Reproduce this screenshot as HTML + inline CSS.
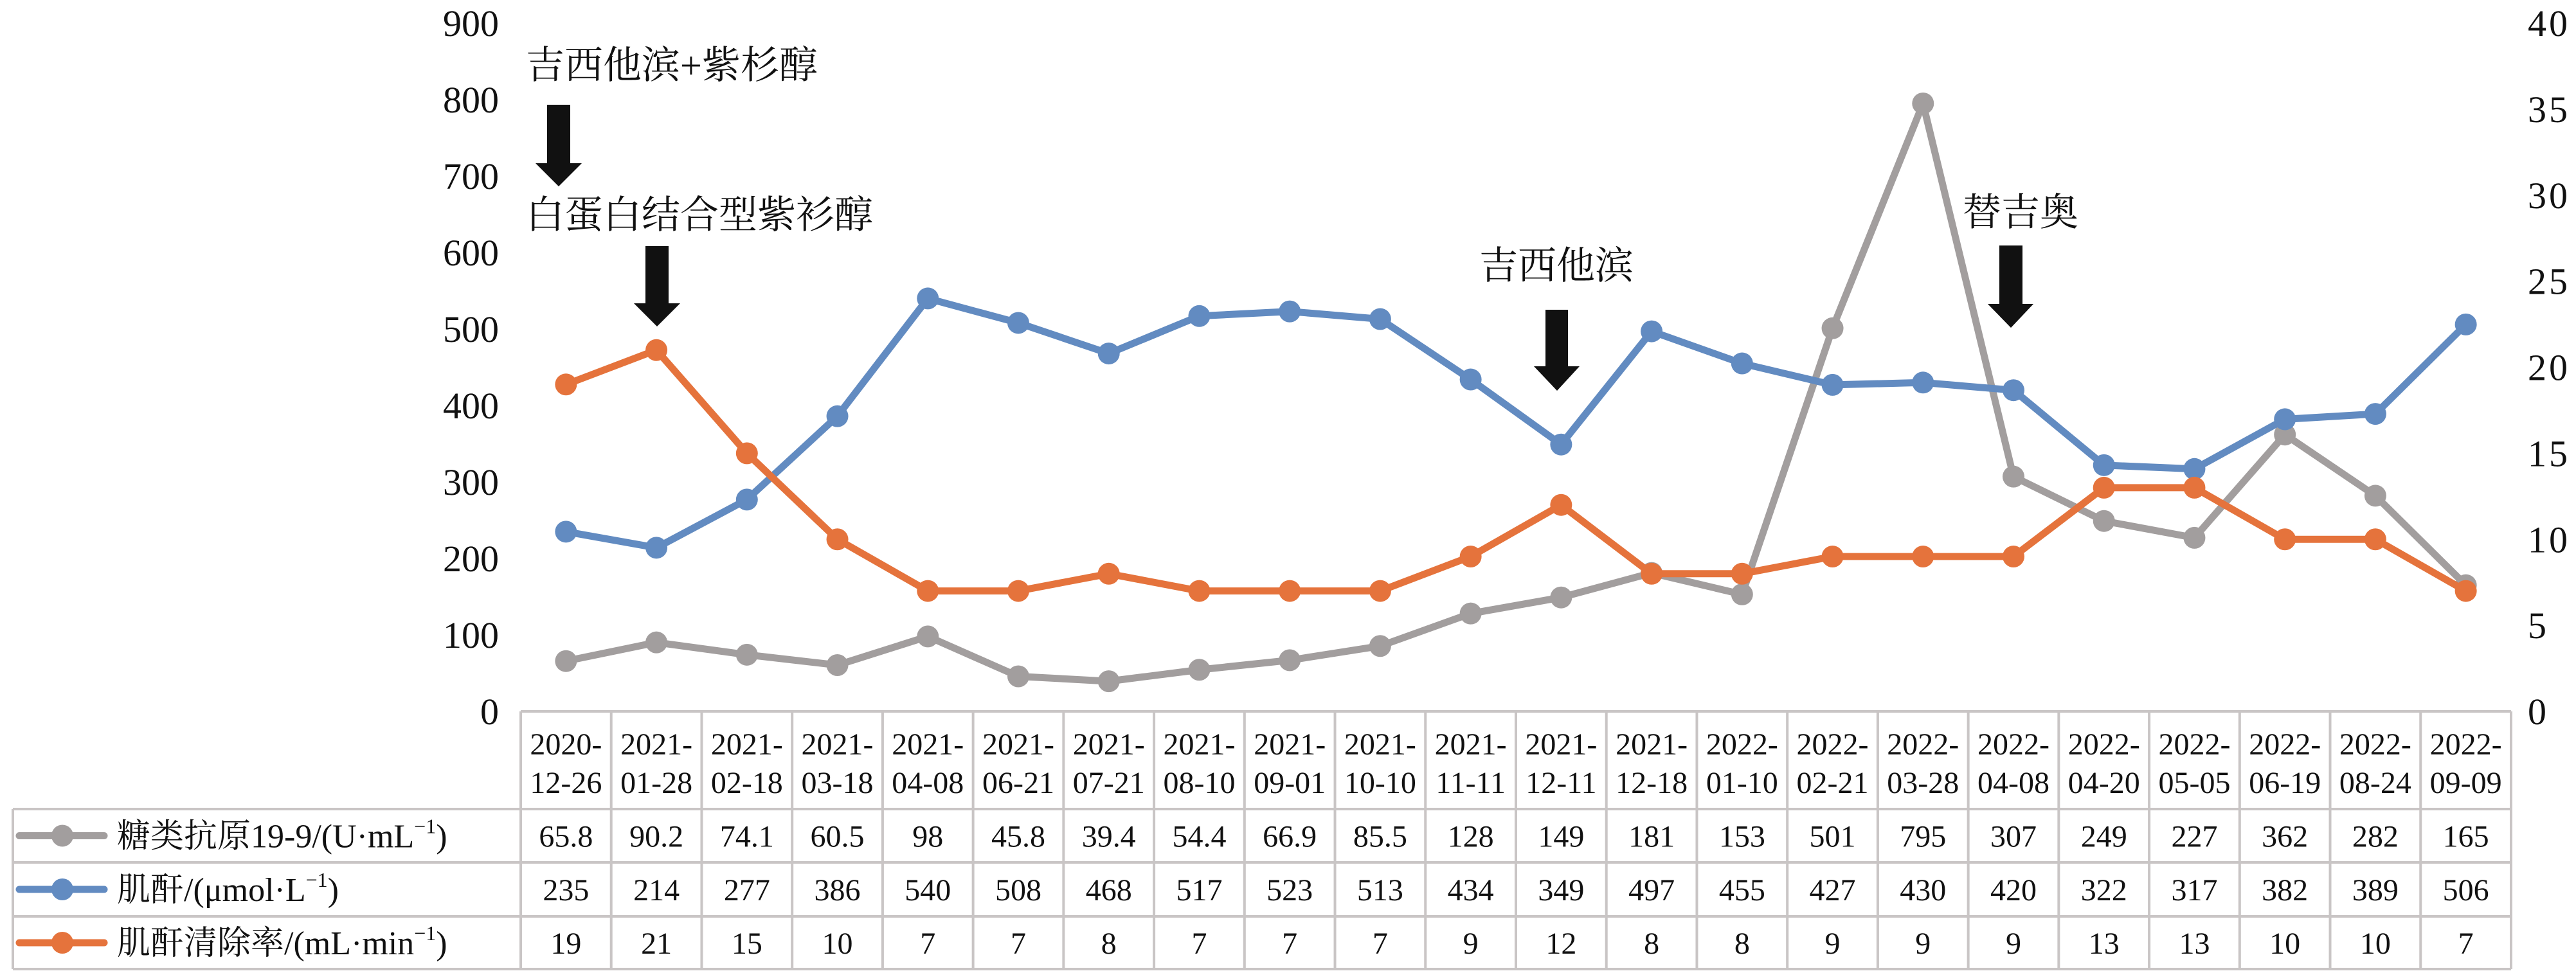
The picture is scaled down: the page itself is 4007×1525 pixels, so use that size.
<!DOCTYPE html>
<html><head><meta charset="utf-8">
<style>
html,body{margin:0;padding:0;background:#fff;}
svg{display:block;}
text{font-family:"Liberation Serif","Noto Serif CJK SC","Noto Sans CJK SC",serif;fill:#111;}
</style></head>
<body>
<svg id="chart" width="4007" height="1525" viewBox="0 0 4007 1525" xmlns="http://www.w3.org/2000/svg">
<g id="annotations">
  <text x="818" y="122" font-size="60">吉西他滨+紫杉醇</text>
  <text x="818" y="355" font-size="60">白蛋白结合型紫衫醇</text>
  <text x="2301" y="434" font-size="60">吉西他滨</text>
  <text x="3053" y="351" font-size="60">替吉奥</text>
  <path d="M851,163 H887 V254 H905 L869,290 L833,254 H851 Z" fill="#111"/>
  <path d="M1004,383 H1040 V472 H1058 L1022,508 L986,472 H1004 Z" fill="#111"/>
  <path d="M2404,482 H2439 V570 H2457 L2422,608 L2386,570 H2404 Z" fill="#111"/>
  <path d="M3110,382 H3146 V473 H3163 L3128,510 L3092,473 H3110 Z" fill="#111"/>
</g>
<g id="axes"></g>
<g id="table"></g>
<g id="series"></g>
</svg>
<script>
const categories=["2020-12-26","2021-01-28","2021-02-18","2021-03-18","2021-04-08","2021-06-21","2021-07-21","2021-08-10","2021-09-01","2021-10-10","2021-11-11","2021-12-11","2021-12-18","2022-01-10","2022-02-21","2022-03-28","2022-04-08","2022-04-20","2022-05-05","2022-06-19","2022-08-24","2022-09-09"];
const ca199=[65.8,90.2,74.1,60.5,98,45.8,39.4,54.4,66.9,85.5,128,149,181,153,501,795,307,249,227,362,282,165];
const creatinine=[235,214,277,386,540,508,468,517,523,513,434,349,497,455,427,430,420,322,317,382,389,506];
const clearance=[19,21,15,10,7,7,8,7,7,7,9,12,8,8,9,9,9,13,13,10,10,7];
const leftTicks=[0,100,200,300,400,500,600,700,800,900];
const rightTicks=[0,5,10,15,20,25,30,35,40];
const seriesNames=["糖类抗原19-9/(U·mL<sup>−1</sup>)","肌酐/(μmol·L<sup>−1</sup>)","肌酐清除率/(mL·min<sup>−1</sup>)"];

const NS="http://www.w3.org/2000/svg";
const tableLeft=810,tableRight=3906,colW=(tableRight-tableLeft)/categories.length;
const y0=1107,yTop=36;
function xPos(i){return tableLeft+colW*(i+0.5);}
function yLeft(v){return y0-(v/900)*(y0-yTop);}
function yRight(v){return y0-(v/40)*(y0-yTop);}
function mk(tag,attrs,parent){const e=document.createElementNS(NS,tag);for(const k in attrs)e.setAttribute(k,attrs[k]);parent.appendChild(e);return e;}

const axes=document.getElementById('axes');
leftTicks.forEach(t=>{
  const e=mk('text',{x:776,y:yLeft(t)+20,'font-size':58,'text-anchor':'end'},axes);
  
  
  e.textContent=t;
});
rightTicks.forEach(t=>{
  const e=mk('text',{x:3932,y:yRight(t)+20,'font-size':58,'letter-spacing':'4'},axes);
  
  
  e.textContent=t;
});

// table
const tb=document.getElementById('table');
const border="#c9c5c5",bw=4;
const rowY=[1107,1259,1342,1426,1508];
function line(x1,y1,x2,y2){const l=mk('line',{x1,y1,x2,y2,stroke:border,'stroke-width':bw},tb);}
line(tableLeft,rowY[0],tableRight,rowY[0]);
for(let r=1;r<rowY.length;r++) line(20,rowY[r],tableRight,rowY[r]);
line(20,rowY[1],20,rowY[4]);
for(let i=0;i<=categories.length;i++) line(tableLeft+colW*i,rowY[0],tableLeft+colW*i,rowY[4]);
categories.forEach((c,i)=>{
  const p=c.split('-');
  const t1=mk('text',{x:xPos(i),y:1174,'font-size':48,'text-anchor':'middle'},tb);
  
  
  t1.textContent=p[0]+'-';
  const t2=mk('text',{x:xPos(i),y:1234,'font-size':48,'text-anchor':'middle'},tb);
  
  
  t2.textContent=p[1]+'-'+p[2];
});
const colors=["#a29e9e","#628bc1","#e5733c"];
const allData=[ca199,creatinine,clearance];
allData.forEach((arr,r)=>{
  const cy=(rowY[r+1]+rowY[r+2])/2;
  arr.forEach((v,i)=>{
    const t=mk('text',{x:xPos(i),y:cy+17,'font-size':48,'text-anchor':'middle'},tb);
    
    
    t.textContent=v;
  });
  const g=mk('g',{},tb);
  
  
  mk('line',{x1:30,y1:cy,x2:162,y2:cy,stroke:colors[r],'stroke-width':11,'stroke-linecap':'round'},g);
  mk('circle',{cx:97,cy:cy,r:17,fill:colors[r]},g);
  const lt=mk('text',{x:182,y:cy+18,'font-size':52},g);
  lt.innerHTML=seriesNames[r].replace('<sup>','<tspan font-size="32" dy="-22">').replace('</sup>','</tspan><tspan dy="22">')+'</tspan>';
});

// series
const sg=document.getElementById('series');
const scales=[yLeft,yLeft,yRight];
const names=['series-ca199','series-creatinine','series-clearance'];
[0,1,2].forEach(r=>{
  const g=mk('g',{},sg);
  
  
  const pts=allData[r].map((v,i)=>xPos(i)+','+scales[r](v)).join(' ');
  const pl=mk('polyline',{points:pts,fill:'none',stroke:colors[r],'stroke-width':11,'stroke-linejoin':'round'},g);
  
  
  allData[r].forEach((v,i)=>{
    const c=mk('circle',{cx:xPos(i),cy:scales[r](v),r:17,fill:colors[r]},g);
    
    
  });
});
</script>
</body></html>
